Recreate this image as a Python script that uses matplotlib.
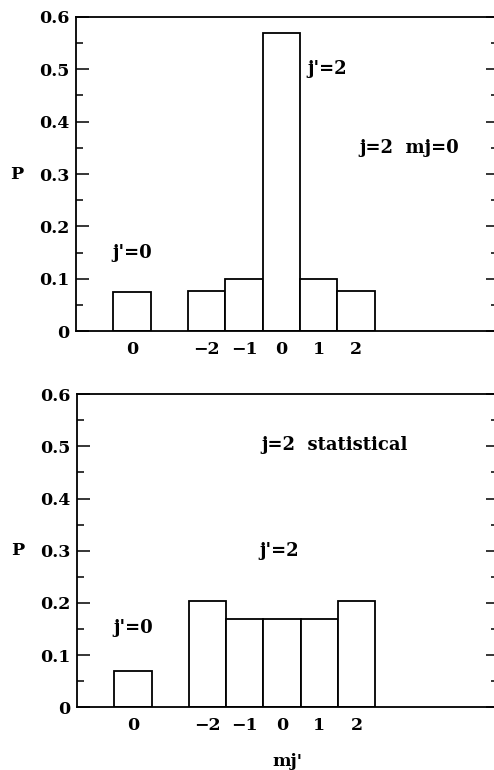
import matplotlib
matplotlib.use("Agg")
import matplotlib.pyplot as plt
from matplotlib.ticker import MultipleLocator

# Data
tick_labels = ["0", "\u22122", "\u22121", "0", "1", "2"]
groups = ["j'=0", "j'=2", "j'=2", "j'=2", "j'=2", "j'=2"]
p_mj0 = [0.074, 0.077, 0.099, 0.569, 0.099, 0.077]
p_stat = [0.070, 0.203, 0.169, 0.170, 0.169, 0.203]
bar_pos = [1.5, 3.5, 4.5, 5.5, 6.5, 7.5]

plt.rcParams['font.family'] = ['DejaVu Serif']
plt.rcParams['font.weight'] = 'bold'

fig = plt.figure(figsize=(4.94, 7.70), dpi=100)
ax1 = fig.add_axes([76/494, 0.570, 422/494, 0.408])
ax2 = fig.add_axes([77/494, 0.0815, 421/494, 0.4065])

fs = 12.5
fst = 13
for ax, vals in [(ax1, p_mj0), (ax2, p_stat)]:
    ax.bar(bar_pos, vals, width=1.0, color='white', edgecolor='black', linewidth=1.3)
    ax.set_xlim(0, 11.3)
    ax.set_ylim(0, 0.6)
    ax.yaxis.set_major_locator(MultipleLocator(0.1))
    ax.yaxis.set_minor_locator(MultipleLocator(0.05))
    ax.set_yticks([0, 0.1, 0.2, 0.3, 0.4, 0.5, 0.6])
    ax.set_yticklabels(["0", "0.1", "0.2", "0.3", "0.4", "0.5", "0.6"], fontsize=fs, fontweight='bold')
    ax.tick_params(axis='y', which='major', direction='in', length=9, width=1.1, left=True, right=True, pad=5)
    ax.tick_params(axis='y', which='minor', direction='in', length=5, width=1.1, left=True, right=True)
    ax.set_xticks(bar_pos)
    ax.set_xticklabels(tick_labels, fontsize=fs, fontweight='bold')
    ax.tick_params(axis='x', length=0, pad=7)
    for s in ax.spines.values():
        s.set_linewidth(1.3)
    ax.set_ylabel("P", rotation=0, fontsize=fs, fontweight='bold', labelpad=16, va='center')

ax1.text(6.2, 0.50, "j'=2", fontsize=fst, fontweight='bold', va='center', ha='left')
ax1.text(7.6, 0.35, "j=2  mj=0", fontsize=fst, fontweight='bold', va='center', ha='left')
ax1.text(1.5, 0.149, "j'=0", fontsize=fst, fontweight='bold', va='center', ha='center')

ax2.text(4.95, 0.503, "j=2  statistical", fontsize=fst, fontweight='bold', va='center', ha='left')
ax2.text(5.42, 0.30, "j'=2", fontsize=fst, fontweight='bold', va='center', ha='center')
ax2.text(1.5, 0.152, "j'=0", fontsize=fst, fontweight='bold', va='center', ha='center')
ax2.set_xlabel("mj'", fontsize=fs, fontweight='bold', labelpad=14)

fig.savefig("out.png", dpi=100)
